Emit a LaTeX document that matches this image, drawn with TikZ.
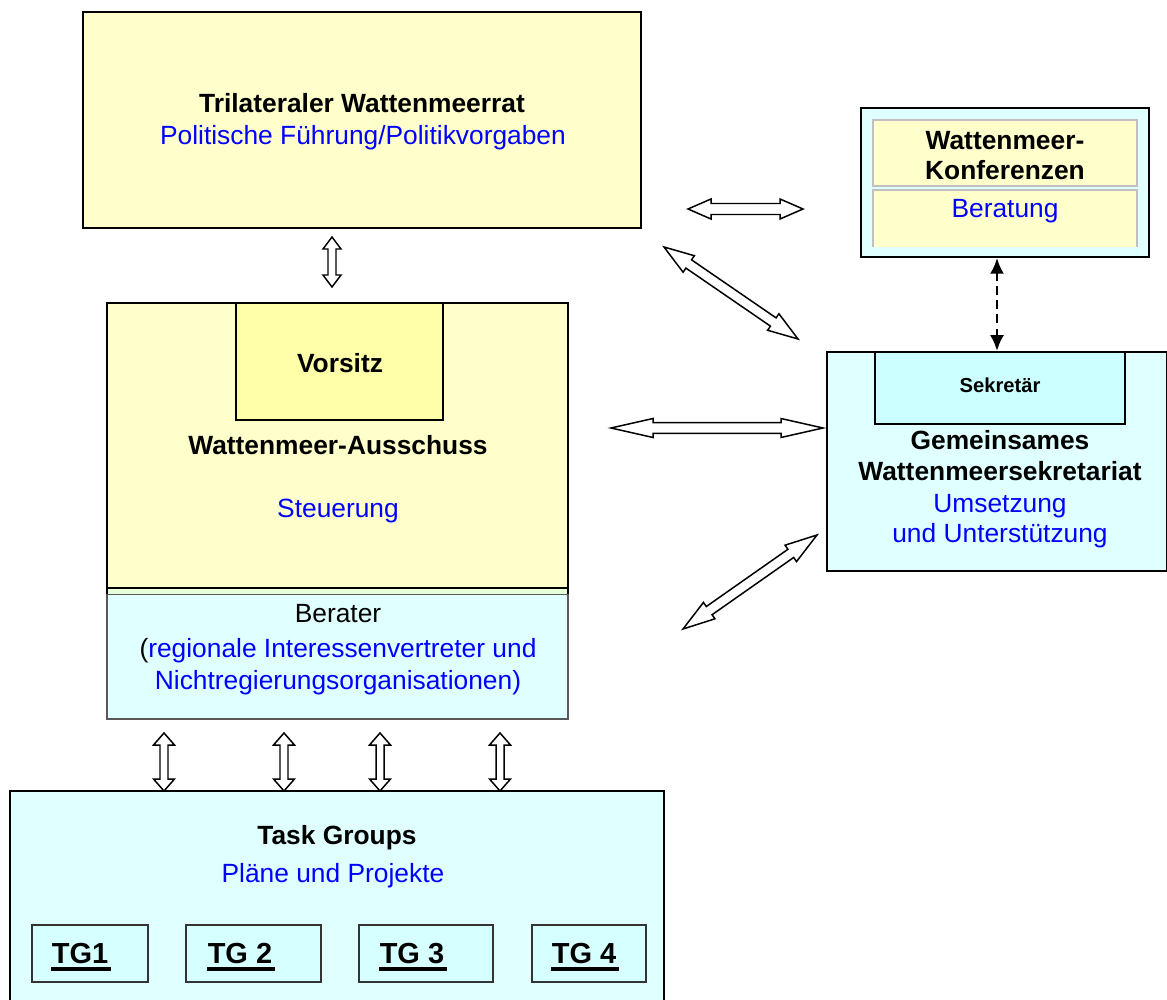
\documentclass[tikz,border=0pt]{standalone}
\usepackage{fontspec}
\setmainfont{Liberation Sans}
\usetikzlibrary{calc,fit,arrows.meta}
\definecolor{ylw}{HTML}{FFFFCC}
\definecolor{ylwB}{HTML}{FFFFAA}
\definecolor{cyn}{HTML}{E0FFFF}
\definecolor{cynB}{HTML}{CCFFFF}
\definecolor{cynC}{HTML}{D6FFFF}
\definecolor{blu}{HTML}{0000FF}
\definecolor{grayline}{HTML}{C0C0C0}
\definecolor{stripe}{HTML}{E6FFDA}
\newcommand\blockarrow[5]{%
  \coordinate (ba1) at ($(#1)!#3*0.02cm!(#2)$);
  \coordinate (bb1) at ($(#2)!#3*0.02cm!(#1)$);
  \draw[arrowline] (#1) -- ($(ba1)!#4*0.02cm!90:(#2)$) -- ($(ba1)!#5*0.02cm!90:(#2)$)
    -- ($(bb1)!#5*0.02cm!-90:(#1)$) -- ($(bb1)!#4*0.02cm!-90:(#1)$) -- (#2)
    -- ($(bb1)!#4*0.02cm!90:(#1)$) -- ($(bb1)!#5*0.02cm!90:(#1)$)
    -- ($(ba1)!#5*0.02cm!-90:(#2)$) -- ($(ba1)!#4*0.02cm!-90:(#2)$) -- cycle;}
\tikzset{
  box/.style={draw=black, line width=1.1pt, inner sep=0pt},
  thinbox/.style={draw=black, line width=0.9pt, inner sep=0pt},
  txt/.style={inner sep=0pt, text height=10.7pt, text depth=0pt, font=\fontsize{15pt}{18pt}\selectfont},
  btxt/.style={txt, font=\fontsize{15pt}{18pt}\selectfont\bfseries, text=black},
  bl/.style={txt, text=blu},
  smalltxt/.style={inner sep=0pt, text height=8.2pt, text depth=0pt, font=\fontsize{11.5pt}{14pt}\selectfont\bfseries},
  tgtxt/.style={inner sep=0pt, text height=11.8pt, text depth=0pt, font=\fontsize{16.5pt}{19pt}\selectfont\bfseries},
  arrowline/.style={draw=black, line width=0.85pt, fill=white, line join=miter},
  uline/.style={line width=2.2pt},
}
\begin{document}
\begin{tikzpicture}[x=0.02cm,y=-0.02cm]
\useasboundingbox (0,0) rectangle (1167,1000);
\clip (0,0) rectangle (1167,1000);

% Trilateraler Wattenmeerrat
\node[box, fill=ylw, fit={(83,12) (641,228)}] (tri) {};
\node[btxt] (trit) at (362,103) {Trilateraler Wattenmeerrat};
\node[bl] (trib) at (363,135) {Politische Führung/Politikvorgaben};

% Wattenmeer-Konferenzen
\node[box, line width=1pt, fill=cyn, fit={(861,108) (1149,257)}] (konf) {};
\node[draw=grayline, line width=0.85pt, fill=ylw, inner sep=0pt, fit={(873,120) (1137,186)}] (konfa) {};
\fill[ylw] (873,190) rectangle (1137,247);
\draw[grayline, line width=0.85pt] (873,247) -- (873,190) -- (1137,190) -- (1137,247);
\node[btxt] (konft1) at (1005,140) {Wattenmeer-};
\node[btxt] (konft2) at (1005,170) {Konferenzen};
\node[bl] (konfb) at (1005,208) {Beratung};

% Wattenmeer-Ausschuss + Berater
\node[draw=black!65, line width=0.7pt, fill=cyn, inner sep=0pt, fit={(107,594) (568,719)}] (ber) {};
\fill[stripe] (107,588) rectangle (568,594);
\node[box, fill=ylw, fit={(107,303) (568,588)}] (aus) {};
\draw[black, line width=1.1pt] (107,588) -- (107,594) (568,588) -- (568,594);
\node[thinbox, fill=ylwB, fit={(236,303) (443,420)}] (vor) {};
\node[btxt] (vort) at (340,363) {Vorsitz};
\node[btxt] (aust) at (338,445) {Wattenmeer-Ausschuss};
\node[bl] (ausb) at (338,508) {Steuerung};
\node[txt] (bert1) at (338,613) {Berater};
\node[txt] (bert2) at (338,648) {(\textcolor{blu}{regionale Interessenvertreter und}};
\node[bl] (bert3) at (338,680) {Nichtregierungsorganisationen)};

% Gemeinsames Wattenmeersekretariat
\node[box, fill=cyn, fit={(827,352) (1167,571)}] (sek) {};
\node[thinbox, fill=cynB, fit={(875,352) (1125,424)}] (sekr) {};
\node[smalltxt] (sekrt) at (1000,385) {Sekretär};
\node[btxt] (sekt1) at (1000,440) {Gemeinsames};
\node[btxt] (sekt2) at (1000,471) {Wattenmeersekretariat};
\node[bl] (sekb1) at (1000,503) {Umsetzung};
\node[bl] (sekb2) at (1000,533) {und Unterstützung};

% Task Groups
\node[box, fill=cyn, fit={(10,791) (664,1010)}] (tg) {};
\node[btxt] (tgt) at (337,835) {Task Groups};
\node[bl] (tgb) at (333,873) {Pläne und Projekte};
\node[thinbox, draw=black!80, fill=cynC, fit={(32,925) (148,982)}] (tg1) {};
\node[thinbox, draw=black!80, fill=cynC, fit={(186,925) (321,982)}] (tg2) {};
\node[thinbox, draw=black!80, fill=cynC, fit={(359,925) (493,982)}] (tg3) {};
\node[thinbox, draw=black!80, fill=cynC, fit={(532,925) (646,982)}] (tg4) {};
\node[tgtxt] (tg1t) at (80,953.5) {TG1};
\node[tgtxt] (tg2t) at (240,953.5) {TG 2};
\node[tgtxt] (tg3t) at (412,953.5) {TG 3};
\node[tgtxt] (tg4t) at (584,953.5) {TG 4};
\foreach \t in {tg1t,tg2t,tg3t,tg4t}{
  \draw[uline] ([yshift=-0.1cm]\t.base west) -- ([yshift=-0.1cm,xshift=0.04cm]\t.base east);
}

% block arrows
\coordinate (a1a) at (688,209); \coordinate (a1b) at (803,209);
\blockarrow{a1a}{a1b}{23}{10}{5.5}
\coordinate (a2a) at (664,247); \coordinate (a2b) at (798,339);
\blockarrow{a2a}{a2b}{30}{10}{5}
\coordinate (a3a) at (611,428); \coordinate (a3b) at (823,428);
\blockarrow{a3a}{a3b}{42}{9.5}{5.3}
\coordinate (a4a) at (817,535); \coordinate (a4b) at (683,629);
\blockarrow{a4a}{a4b}{32}{10}{5}
\coordinate (a5a) at (332,237); \coordinate (a5b) at (332,287);
\blockarrow{a5a}{a5b}{12}{9}{4}
\foreach \i/\x in {1/164,2/284,3/380,4/500}{
  \coordinate (v\i a) at (\x,733); \coordinate (v\i b) at (\x,791);
  \blockarrow{v\i a}{v\i b}{12}{10.5}{4}
}

% dashed arrow
\draw[dash pattern=on 5pt off 3pt, line width=1.6pt,
  {Latex[length=9pt,width=8pt]}-{Latex[length=9pt,width=8pt]}]
  (konf.south -| sek.north) -- (sek.north);
\end{tikzpicture}
\end{document}
